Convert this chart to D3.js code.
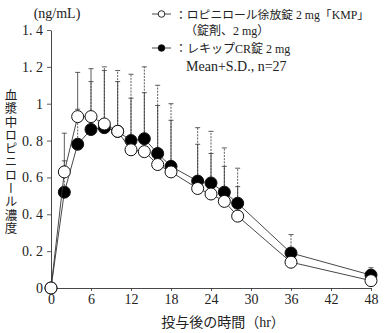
<!DOCTYPE html>
<html>
<head>
<meta charset="utf-8">
<script src="https://cdn.jsdelivr.net/npm/d3@7"></script>
<style>
  body { margin: 0; background: #fff; }
  text { font-family: "Liberation Serif", "Noto Sans CJK JP", serif; fill: #222; }
</style>
</head>
<body>
<svg id="chart" width="384" height="333"></svg>
<script>
// time points (hr)
var times = [0, 2, 4, 6, 8, 10, 12, 14, 16, 18, 22, 24, 26, 28, 36, 48];
// ロピニロール徐放錠 2mg「KMP」
var kmpMean = [0, 0.63, 0.93, 0.93, 0.89, 0.85, 0.75, 0.74, 0.67, 0.63, 0.54, 0.51, 0.47, 0.39, 0.14, 0.04];
var kmpSD   = [0, 0.21, 0.24, 0.26, 0.29, 0.27, 0.28, 0.32, 0.32, 0.28, 0.24, 0.22, 0.19, 0.16, 0.07, 0.03];
// レキップCR錠 2mg
var reqMean = [0, 0.52, 0.78, 0.86, 0.87, 0.85, 0.80, 0.81, 0.73, 0.66, 0.58, 0.57, 0.52, 0.46, 0.19, 0.07];
var reqSD   = [0, 0.17, 0.19, 0.26, 0.33, 0.33, 0.36, 0.39, 0.37, 0.34, 0.29, 0.28, 0.24, 0.19, 0.10, 0.04];

var xTicks = [0, 6, 12, 18, 24, 30, 36, 42, 48];
var yTicks = [0, 0.2, 0.4, 0.6, 0.8, 1, 1.2, 1.4];
var yTickLabels = ["0", "0. 2", "0. 4", "0. 6", "0. 8", "1", "1. 2", "1. 4"];
var yTitle = "血漿中ロピニロール濃度";

var svg = d3.select("#chart");

var x = d3.scaleLinear().domain([0, 48]).range([51, 371]);
var y = d3.scaleLinear().domain([0, 1.4]).range([288, 30]);

// axes
var xAxis = svg.append("g")
    .attr("transform", "translate(0," + y(0) + ")")
    .call(d3.axisBottom(x).tickValues(xTicks).tickSize(3).tickSizeOuter(0).tickPadding(3));
var yAxis = svg.append("g")
    .attr("transform", "translate(" + x(0) + ",0)")
    .call(d3.axisLeft(y).tickValues(yTicks).tickSize(4).tickSizeOuter(0).tickPadding(4)
      .tickFormat(function (d, i) { return yTickLabels[i]; }));

[xAxis, yAxis].forEach(function (a) {
  a.select(".domain").attr("stroke", "#333").attr("stroke-width", 0.9);
  a.selectAll(".tick line").attr("stroke", "#333").attr("stroke-width", 0.8);
  a.selectAll(".tick text").style("font-size", "14px").attr("fill", "#222")
    .style("font-family", "Liberation Serif, serif");
});
yAxis.selectAll(".tick text").attr("x", -8);

function drawErrorBars(mean, sd, dash) {
  var g = svg.append("g");
  times.forEach(function (t, i) {
    if (sd[i] <= 0) return;
    var cx = x(t), y0 = y(mean[i]), y1 = y(mean[i] + sd[i]);
    g.append("line").attr("x1", cx).attr("x2", cx).attr("y1", y0).attr("y2", y1)
      .attr("stroke", "#333").attr("stroke-width", 0.8)
      .attr("stroke-dasharray", dash);
    g.append("line").attr("x1", cx - 2.5).attr("x2", cx + 2.5).attr("y1", y1).attr("y2", y1)
      .attr("stroke", "#333").attr("stroke-width", 0.8);
  });
}

function drawSeries(mean, fill) {
  var line = d3.line().x(function (d, i) { return x(times[i]); }).y(function (d) { return y(d); });
  svg.append("path").datum(mean).attr("d", line)
    .attr("fill", "none").attr("stroke", "#333").attr("stroke-width", 0.9);
  svg.append("g").selectAll("circle")
    .data(mean).enter().append("circle")
    .attr("cx", function (d, i) { return x(times[i]); })
    .attr("cy", function (d) { return y(d); })
    .attr("r", 6)
    .attr("fill", fill)
    .attr("stroke", "#111").attr("stroke-width", 1);
}

drawErrorBars(reqMean, reqSD, "2,1.2");
drawErrorBars(kmpMean, kmpSD, null);
drawSeries(reqMean, "#000");
drawSeries(kmpMean, "#fff");

// unit label
svg.append("text").attr("x", 57).attr("y", 18).attr("text-anchor", "middle")
  .style("font-size", "14px").text("(ng/mL)");

// y title, written vertically
svg.append("text")
  .attr("x", 11).attr("y", 89)
  .style("writing-mode", "vertical-rl")
  .style("text-orientation", "upright")
  .style("font-size", "12.5px")
  .style("letter-spacing", "0.8px")
  .style("font-family", "Noto Sans CJK JP, sans-serif")
  .text(yTitle);

// x title
svg.append("text").attr("x", 223).attr("y", 327).attr("text-anchor", "middle")
  .style("font-size", "14px").text("投与後の時間（hr）");

// legend
var legend = svg.append("g");
function legendMarker(yy, fill) {
  legend.append("line").attr("x1", 152).attr("x2", 171).attr("y1", yy).attr("y2", yy)
    .attr("stroke", "#333").attr("stroke-width", 0.9);
  legend.append("circle").attr("cx", 161.5).attr("cy", yy).attr("r", 3.3)
    .attr("fill", fill).attr("stroke", "#111").attr("stroke-width", 0.9);
}
legendMarker(14, "#fff");
legendMarker(48, "#000");
var legendLines = [
  { x: 175, y: 19, t: "：ロピニロール徐放錠 2 mg「KMP」", s: 11.8 },
  { x: 185, y: 35, t: "（錠剤、2 mg）", s: 12 },
  { x: 175, y: 53, t: "：レキップCR錠 2 mg", s: 12 },
  { x: 186, y: 71, t: "Mean+S.D., n=27", s: 14 }
];
legend.selectAll("text.lg").data(legendLines).enter().append("text")
  .attr("class", "lg")
  .attr("x", function (d) { return d.x; })
  .attr("y", function (d) { return d.y; })
  .style("font-size", function (d) { return d.s + "px"; })
  .text(function (d) { return d.t; });
</script>
</body>
</html>
